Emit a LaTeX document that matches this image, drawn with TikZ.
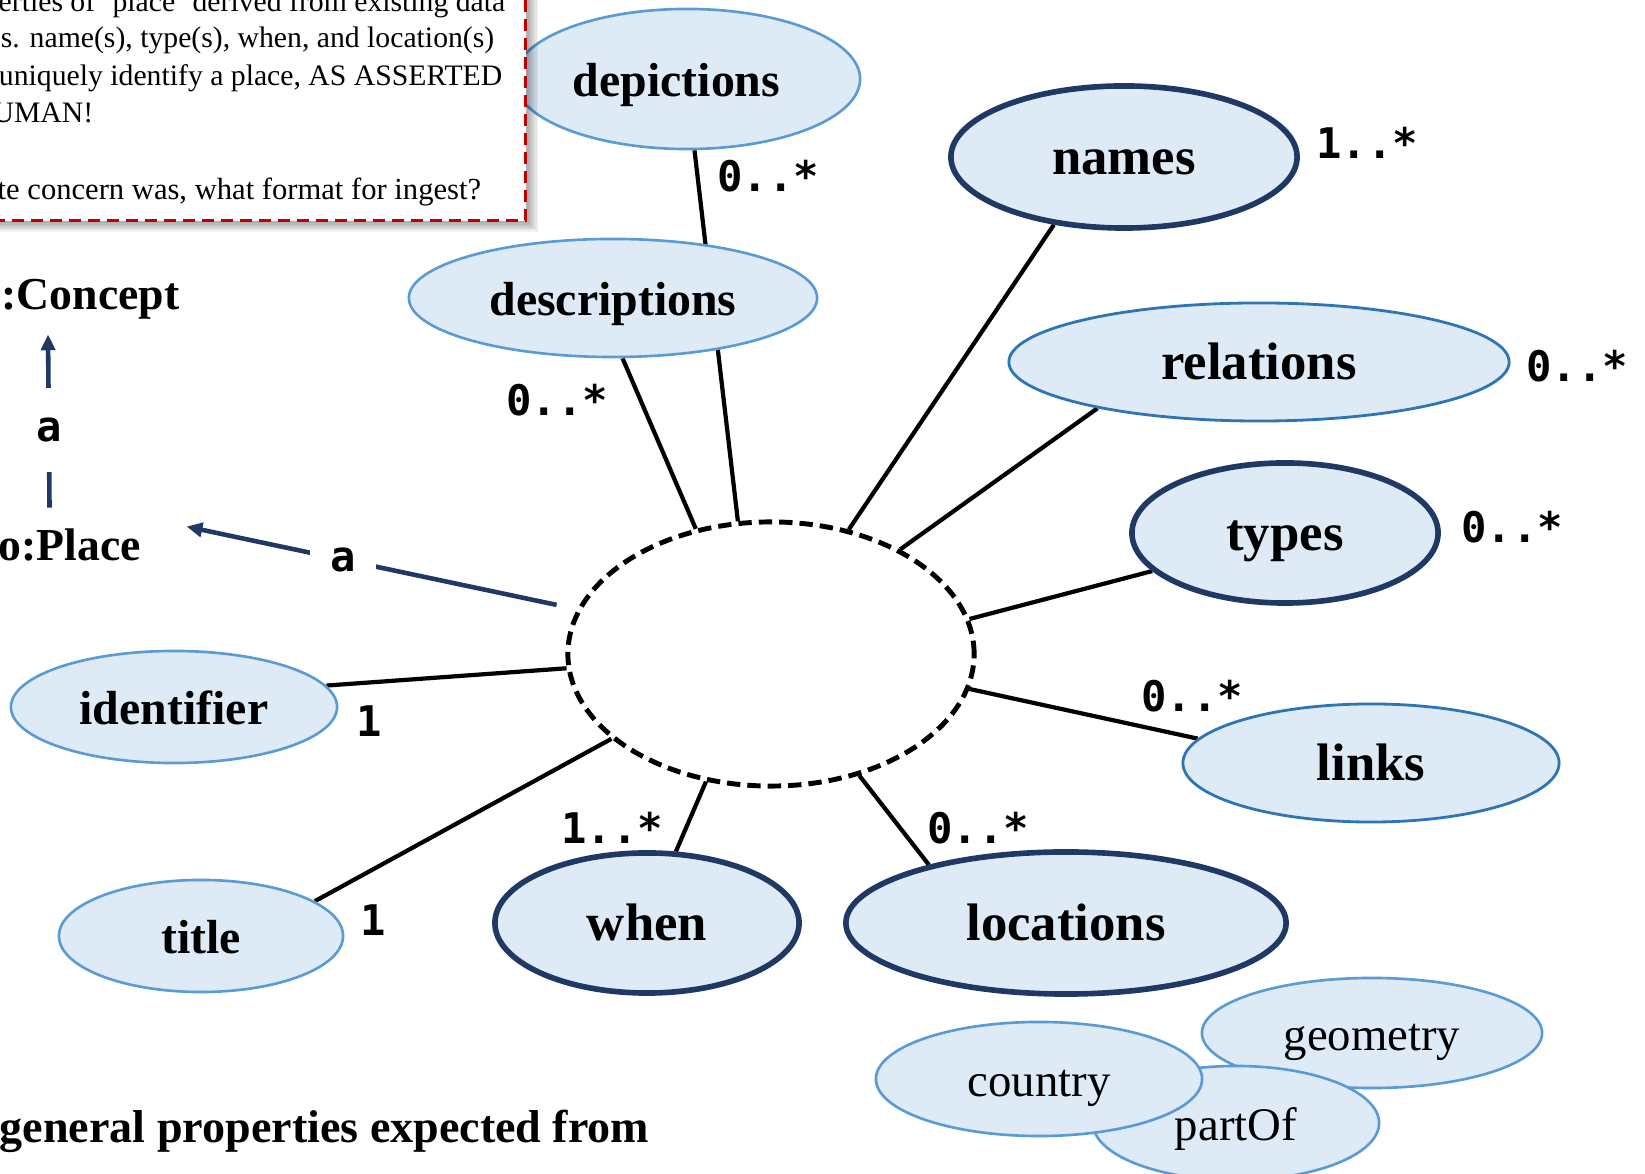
\documentclass[tikz,border=0pt]{standalone}
\usepackage{fontspec}
\setmainfont{Liberation Serif}
\newfontfamily\codefont{DejaVu Sans Mono}
\usetikzlibrary{shapes.geometric,arrows.meta,backgrounds}

\definecolor{fillblue}{HTML}{DEEBF7}
\definecolor{lineblue}{HTML}{5B9BD5}
\definecolor{midblue}{HTML}{2E75B6}
\definecolor{navy}{HTML}{203864}
\definecolor{boxred}{HTML}{C00000}

\tikzset{
  prop/.style 2 args={ellipse, fill=fillblue, minimum width=#1, minimum height=#2, inner sep=0pt,
                      text height=10.2pt, text depth=0.5pt},
  light/.style={draw=lineblue, line width=0.75pt},
  mid/.style={draw=midblue, line width=0.8pt},
  core/.style={draw=navy, line width=1.6pt},
  bigtxt/.style={font=\fontsize{15}{18}\selectfont\bfseries},
  smtxt/.style={font=\fontsize{13.6}{16}\selectfont\bfseries},
  subtxt/.style={font=\fontsize{13.3}{16}\selectfont},
  card/.style={font=\codefont\bfseries\fontsize{12}{14}\selectfont, inner sep=0pt},
  link/.style={draw=black, line width=1.2pt},
  isa/.style={draw=navy, line width=1.3pt, -{Triangle[length=4.5pt,width=4pt]}},
  isalabel/.style={font=\codefont\bfseries\fontsize{12}{14}\selectfont, fill=white, text=black},
  note/.style={font=\fontsize{8.45}{10}\selectfont, anchor=base east, inner sep=0pt},
  classname/.style={font=\fontsize{13}{15}\selectfont\bfseries, anchor=base west, inner sep=0pt},
}

\begin{document}
\begin{tikzpicture}[x=0.01cm, y=-0.01cm]
\useasboundingbox (0,0) rectangle (1645,1174);

% property ellipses
\node[prop={3.46cm}{1.40cm}, light, smtxt] (dep) at (687,79) {depictions\rule{0.21cm}{0pt}};

% note box with its soft shadow
\foreach \k in {2,4,...,14}
  \fill[black, opacity=0.05] (-30,-30) rectangle (527+\k*0.8,222+\k*0.7);
\node[draw=boxred, fill=white, line width=0.8pt, dash pattern=on 3.4pt off 2pt,
      minimum width=5.7cm, minimum height=2.6cm, anchor=south east, inner sep=0pt] (memo) at (527,222) {};
\node[note] (m1) at (506,12) {erties of ‘place’ derived from existing data};
\node[note] (m2) at (495,48) {s. name(s), type(s), when, and location(s)};
\node[note] (m3) at (503,86) {uniquely identify a place, AS ASSERTED};
\node[note] (m4) at (94,123) {UMAN!};
\node[note, font=\fontsize{8.7}{10}\selectfont, anchor=base west] (m5) at (-3,200) {te concern was, what format for ingest?};

\node[prop={4.08cm}{1.18cm}, light, smtxt] (desc) at (613,298) {descriptions};
\node[prop={3.46cm}{1.42cm}, core, bigtxt] (names) at (1124,157) {names};
\node[prop={5.00cm}{1.18cm}, mid, bigtxt] (rel) at (1259,362) {relations};
\node[prop={3.06cm}{1.40cm}, core, bigtxt] (types) at (1285,533) {types};
\node[prop={3.76cm}{1.18cm}, mid, bigtxt] (links) at (1371,763) {links};
\node[prop={4.40cm}{1.42cm}, core, bigtxt] (loc) at (1066,923) {locations};
\node[prop={3.04cm}{1.40cm}, core, bigtxt] (when) at (647,923) {when};
\node[prop={2.84cm}{1.12cm}, light, smtxt] (title) at (201,936) {title};
\node[prop={3.26cm}{1.12cm}, light, smtxt] (ident) at (174,707) {identifier};

% location sub-properties
\node[prop={3.40cm}{1.10cm}, light, subtxt] (geom) at (1372,1033) {geometry};
\node[prop={2.86cm}{1.14cm}, light, subtxt] (part) at (1236,1123) {partOf};
\node[prop={3.26cm}{1.14cm}, light, subtxt] (country) at (1039,1079) {country};

% the place itself
\node[ellipse, draw=black, line width=1.4pt, dash pattern=on 3.8pt off 2pt,
      minimum width=4.06cm, minimum height=2.64cm, inner sep=0pt] (place) at (771,654) {};

% class names
\node[classname] (concept) at (1,310) {:Concept};
\node[classname] (oplace) at (-2,561) {o:Place};

% typing arrows
\draw[isa] ([xshift=0.515cm, yshift=0.21cm]oplace.north west)
  -- node[isalabel, pos=0.45, inner xsep=0.15cm, inner ysep=0.3cm] (a1) {a}
  ([xshift=0.47cm, yshift=-0.14cm]concept.south west);
\draw[isa, shorten <=0.21cm] (place.167.7)
  -- node[isalabel, pos=0.6, inner xsep=0.2cm, inner ysep=0.2cm] (a2) {a}
  ([xshift=0.45cm, yshift=0.02cm]oplace.north east);

% cardinalities
\node[card] (cdep) at (768,176) {0..*};
\node[card] (cdesc) at (557,400) {0..*};
\node[card] (cnames) at (1367,143) {1..*};
\node[card] (crel) at (1577,366) {0..*};
\node[card] (ctypes) at (1512,527) {0..*};
\node[card] (clinks) at (1192,696) {0..*};
\node[card] (cloc) at (978,828) {0..*};
\node[card] (cwhen) at (612,828) {1..*};
\node[card] (ctitle) at (373,920) {1};
\node[card] (cident) at (369,721) {1};

% caption
\node[font=\fontsize{13.1}{15}\selectfont\bfseries, anchor=base east, inner sep=0pt] (caption) at (650,1143) {general properties expected from};

% property connectors, behind the ellipses
\begin{pgfonlayer}{background}
\draw[link] (dep.276.7) -- (place.104.2);
\draw[link] (desc.-81.3) -- (place.121.3);
\draw[link] (names.224.5) -- (place.58.7);
\draw[link] (rel.196.3) -- (place.39.9);
\draw[link] (types.196.8) -- (place.10.1);
\draw[link] (links.172.1) -- (place.-10.8);
\draw[link] (loc.157.3) -- (place.-54.4);
\draw[link] (when.68.1) -- (place.-117.2);
\draw[link] (title.17.5) -- (place.208.6);
\draw[link] (ident.8.1) -- (place.184.1);
\end{pgfonlayer}
\end{tikzpicture}
\end{document}
